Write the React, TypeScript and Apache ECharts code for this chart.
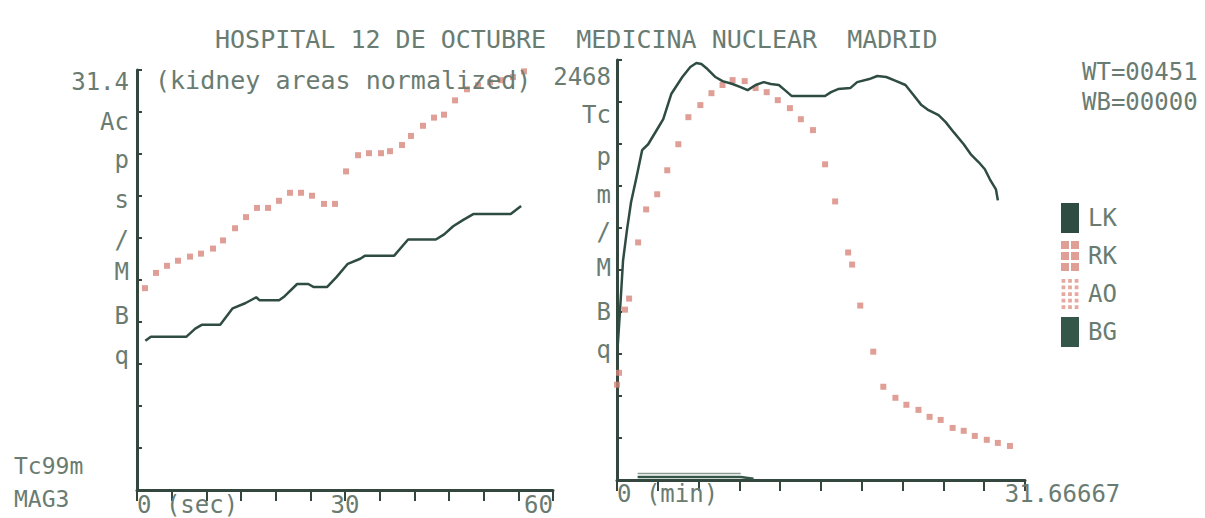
import React, { useEffect, useRef } from "react";
import * as echarts from "echarts";

// ---------- DATA ----------
// Left panel: first minute (seconds), kidney areas normalized
const lkSecT = [1.2, 2.0, 7.1, 8.4, 9.4, 12.0, 13.8, 15.6, 17.2, 17.7, 20.5, 21.3, 23.1, 24.7, 25.5, 27.4, 28.8, 30.4, 32.2, 32.9, 37.1, 39.1, 43.1, 44.3, 45.6, 47.0, 48.5, 53.9, 55.4];
const lkSecV = [11.15, 11.45, 11.45, 12.06, 12.36, 12.36, 13.58, 13.96, 14.41, 14.18, 14.18, 14.49, 15.4, 15.4, 15.17, 15.17, 15.93, 16.91, 17.29, 17.52, 17.52, 18.73, 18.73, 19.11, 19.72, 20.18, 20.63, 20.63, 21.24];

const rkSecT = [1.15, 2.74, 4.33, 5.91, 7.64, 9.23, 10.96, 12.4, 14.14, 15.72, 17.31, 18.9, 20.48, 22.07, 23.65, 25.24, 26.97, 28.56, 30.15, 31.88, 33.46, 35.19, 36.49, 38.22, 39.52, 41.25, 42.84, 44.28, 45.87, 47.6, 49.18, 50.92, 52.5, 54.23, 55.82];
const rkSecV = [15.09, 16.23, 16.76, 17.14, 17.45, 17.67, 18.05, 18.66, 19.57, 20.4, 21.09, 21.09, 21.62, 22.22, 22.22, 22.0, 21.39, 21.39, 23.82, 25.03, 25.18, 25.18, 25.33, 25.79, 26.47, 27.23, 27.84, 28.06, 29.13, 29.96, 30.26, 30.49, 30.64, 30.87, 31.3];

// Right panel: whole study (minutes)
const lkMinT = [0.05, 0.23, 0.47, 0.78, 1.09, 1.48, 1.95, 2.42, 3.12, 3.59, 4.21, 5.07, 5.69, 6.16, 6.55, 7.02, 7.64, 8.19, 8.97, 9.59, 10.14, 10.76, 11.39, 11.93, 12.56, 13.03, 13.57, 14.82, 16.15, 16.61, 17.16, 18.1, 18.64, 19.58, 20.2, 20.9, 21.68, 22.39, 23.01, 23.63, 24.18, 24.96, 25.51, 26.13, 26.91, 27.46, 28.08, 28.55, 28.94, 29.41, 29.56];
const lkMinV = [780, 990, 1290, 1473, 1632, 1767, 1938, 1973, 2061, 2120, 2268, 2368, 2427, 2450, 2444, 2415, 2368, 2344, 2327, 2309, 2291, 2321, 2338, 2327, 2321, 2291, 2256, 2256, 2256, 2279, 2297, 2303, 2338, 2356, 2374, 2368, 2344, 2321, 2262, 2203, 2173, 2144, 2103, 2044, 1973, 1914, 1867, 1826, 1767, 1708, 1643];

const rkMinT = [0.0, 0.16, 0.62, 0.94, 1.64, 2.26, 3.12, 3.9, 4.76, 5.54, 6.47, 7.33, 8.19, 8.97, 9.91, 10.76, 11.62, 12.48, 13.42, 14.27, 15.21, 16.15, 16.93, 17.94, 18.25, 18.88, 19.89, 20.67, 21.61, 22.46, 23.4, 24.26, 25.12, 26.05, 26.91, 27.77, 28.7, 29.56, 30.5];
const rkMinV = [560, 630, 1001, 1066, 1396, 1590, 1679, 1820, 1973, 2132, 2203, 2273, 2321, 2350, 2344, 2303, 2279, 2232, 2185, 2120, 2056, 1855, 1637, 1337, 1266, 1025, 754, 548, 483, 442, 412, 371, 353, 306, 289, 259, 236, 218, 200];

const bgMinT = [1.6, 9.6, 10.6];
const bgMinV = [18, 18, 8];
const bg2MinT = [1.6, 9.6];
const bg2MinV = [38, 38];

// Tick labels
const leftYLabels = ["", "", "", "q", "B", "M", "/", "s", "p", "Ac", "31.4"];
const rightYLabels = ["", "", "", "q", "B", "M", "/", "m", "p", "Tc", "2468"];
const leftXLabels: Record<number, string> = { 0: "0 (sec)", 30: "30", 60: "60" };
const rightXMinLabel = "0 (min)";
const rightXMaxLabel = "31.66667";
const legendNames = ["LK", "RK", "AO", "BG"];

const titleText = "HOSPITAL 12 DE OCTUBRE  MEDICINA NUCLEAR  MADRID";
const subText = "(kidney areas normalized)";
const weightText = "WT=00451\nWB=00000";
const tracerText = "Tc99m\nMAG3";

// ---------- STYLE ----------
const FONT = '"DejaVu Sans Mono", "Liberation Mono", monospace';
const TEXT = "#6a7c72";
const AXIS = "#33473e";
const LK_C = "#2f4c42";
const RK_C = "#d8877c";
const AO_C = "#e7a89f";
const BG_C = "#34574a";
// vertical nudges (px, + = down) of the y tick labels, as printed
const leftYShift = [0, 0, 0, -8, -6, -8, 2, 4, 6, 10, 12];
const rightYShift = [0, 0, 0, -4, 0, -2, 4, 9, 13, 13, 17];

const pairs = (t: number[], v: number[]) => t.map((x, i) => [x, v[i]]);

const RK_ICON =
  "path://M0 0h8v8h-8z M10 0h8v8h-8z M0 11h8v8h-8z M10 11h8v8h-8z M0 22h8v8h-8z M10 22h8v8h-8z";
const AO_ICON =
  "path://M0 0h4v4h-4z M7 0h4v4h-4z M14 0h4v4h-4z M0 7h4v4h-4z M7 7h4v4h-4z M14 7h4v4h-4z M0 14h4v4h-4z M7 14h4v4h-4z M14 14h4v4h-4z M0 21h4v4h-4z M7 21h4v4h-4z M14 21h4v4h-4z M0 28h4v4h-4z M7 28h4v4h-4z M14 28h4v4h-4z";

export default function App() {
  const ref = useRef<HTMLDivElement>(null);

  useEffect(() => {
    if (!ref.current) return;
    const chart = echarts.init(ref.current, undefined, { renderer: "svg" });
    const txt = { fontFamily: FONT, fontSize: 24, fontWeight: "normal" as const, color: TEXT };

    const shiftRich = (shifts: number[]) => {
      const r: Record<string, object> = {};
      shifts.forEach((s, i) => {
        r["s" + i] = { ...txt, padding: s >= 0 ? [2 * s, 0, 0, 0] : [0, 0, -2 * s, 0] };
      });
      return r;
    };

    const yAxisCommon = {
      type: "value" as const,
      min: 0,
      axisLine: { show: true, lineStyle: { color: AXIS, width: 3 } },
      axisTick: { show: true, inside: true, length: 5, lineStyle: { color: AXIS, width: 2 } },
      splitLine: { show: false },
    };
    const xAxisCommon = {
      type: "value" as const,
      min: 0,
      axisLine: { show: true, onZero: false, lineStyle: { color: AXIS, width: 3 } },
      axisTick: { show: true, inside: false, length: 11, lineStyle: { color: AXIS, width: 2 } },
      splitLine: { show: false },
    };

    chart.setOption({
      animation: false,
      backgroundColor: "#ffffff",
      title: [
        { text: titleText, left: 215, top: 27, padding: 0, textStyle: { ...txt, fontSize: 25 } },
        { text: subText, left: 155, top: 68, padding: 0, textStyle: { ...txt, fontSize: 25 } },
        { text: weightText, left: 1082, top: 57, padding: 0, textStyle: { ...txt, fontSize: 24, lineHeight: 30 } },
        { text: tracerText, left: 14, top: 449, padding: 0, textStyle: { ...txt, fontSize: 23, lineHeight: 33 } },
      ],
      legend: {
        orient: "vertical",
        left: 1061,
        top: 203,
        itemWidth: 18,
        itemHeight: 30,
        itemGap: 8,
        selectedMode: false,
        padding: 0,
        textStyle: { ...txt, fontSize: 24, padding: [0, 0, 0, 4] },
        data: [
          { name: legendNames[0], icon: "rect", itemStyle: { color: LK_C } },
          { name: legendNames[1], icon: RK_ICON, itemStyle: { color: RK_C } },
          { name: legendNames[2], icon: AO_ICON, itemStyle: { color: AO_C } },
          { name: legendNames[3], icon: "rect", itemStyle: { color: BG_C } },
        ],
      },
      grid: [
        { left: 137, top: 70, width: 416, height: 420 },
        { left: 617, top: 60, width: 408, height: 420 },
      ],
      xAxis: [
        {
          ...xAxisCommon,
          gridIndex: 0,
          max: 60,
          interval: 5,
          axisLabel: {
            ...txt,
            margin: 3,
            alignMinLabel: "left",
            alignMaxLabel: "right",
            formatter: (v: number) => leftXLabels[Math.round(v)] ?? "",
          },
        },
        {
          ...xAxisCommon,
          gridIndex: 1,
          max: 31.66667,
          interval: 3.166667,
          axisLabel: {
            ...txt,
            margin: 2,
            alignMinLabel: "left",
            formatter: (v: number) => {
              if (v === 0) return rightXMinLabel;
              if (Math.abs(v - 31.66667) < 0.01) return "{m|" + rightXMaxLabel + "}";
              return "";
            },
            rich: { m: { ...txt, padding: [0, 0, 0, 75] } },
          },
        },
      ],
      yAxis: [
        {
          ...yAxisCommon,
          gridIndex: 0,
          max: 31.4,
          interval: 3.14,
          axisLabel: {
            ...txt,
            margin: 8,
            formatter: (_v: number, i: number) =>
              leftYLabels[i] ? "{s" + i + "|" + leftYLabels[i] + "}" : "",
            rich: shiftRich(leftYShift),
          },
        },
        {
          ...yAxisCommon,
          gridIndex: 1,
          max: 2468,
          interval: 246.8,
          axisLabel: {
            ...txt,
            margin: 6,
            formatter: (_v: number, i: number) =>
              rightYLabels[i] ? "{s" + i + "|" + rightYLabels[i] + "}" : "",
            rich: shiftRich(rightYShift),
          },
        },
      ],
      series: [
        {
          name: "LK",
          type: "line",
          xAxisIndex: 0,
          yAxisIndex: 0,
          data: pairs(lkSecT, lkSecV),
          showSymbol: false,
          lineStyle: { color: LK_C, width: 2.5 },
          itemStyle: { color: LK_C },
        },
        {
          name: "RK",
          type: "scatter",
          xAxisIndex: 0,
          yAxisIndex: 0,
          data: pairs(rkSecT, rkSecV),
          symbol: "rect",
          symbolSize: 6,
          itemStyle: { color: RK_C },
        },
        {
          name: "LK",
          type: "line",
          xAxisIndex: 1,
          yAxisIndex: 1,
          data: pairs(lkMinT, lkMinV),
          showSymbol: false,
          lineStyle: { color: LK_C, width: 2.5 },
          itemStyle: { color: LK_C },
        },
        {
          name: "RK",
          type: "scatter",
          xAxisIndex: 1,
          yAxisIndex: 1,
          data: pairs(rkMinT, rkMinV),
          symbol: "rect",
          symbolSize: 6,
          itemStyle: { color: RK_C },
        },
        {
          name: "AO",
          type: "line",
          xAxisIndex: 1,
          yAxisIndex: 1,
          data: [],
          itemStyle: { color: AO_C },
        },
        {
          name: "BG",
          type: "line",
          xAxisIndex: 1,
          yAxisIndex: 1,
          data: pairs(bgMinT, bgMinV),
          showSymbol: false,
          lineStyle: { color: BG_C, width: 2.5 },
          itemStyle: { color: BG_C },
        },
        {
          name: "BG2",
          type: "line",
          xAxisIndex: 1,
          yAxisIndex: 1,
          data: pairs(bg2MinT, bg2MinV),
          showSymbol: false,
          lineStyle: { color: "#8a9a92", width: 1.5 },
          itemStyle: { color: "#8a9a92" },
        },
      ],
    });

    return () => chart.dispose();
  }, []);

  return (
    <div
      ref={ref}
      style={{ position: "absolute", left: 0, top: 0, width: 1205, height: 518, background: "#fff" }}
    />
  );
}
